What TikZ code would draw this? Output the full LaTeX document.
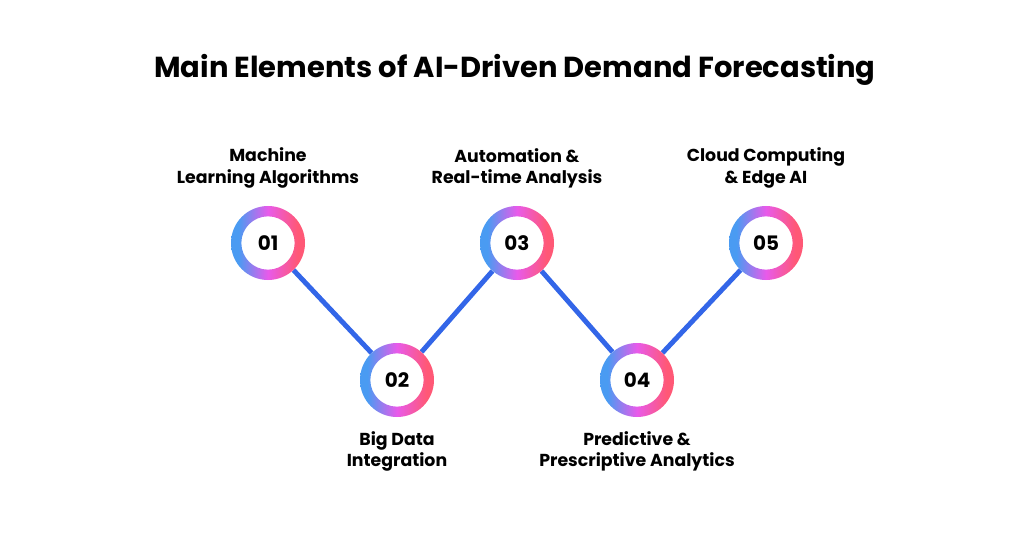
\documentclass[tikz,border=0pt]{standalone}
\usepackage{fontspec}
\setmainfont{Poppins}
\usetikzlibrary{positioning}
\definecolor{CBlue}{HTML}{4A9BF2}
\definecolor{CMagenta}{HTML}{E85AEA}
\definecolor{CRed}{HTML}{FF5876}
\definecolor{CLine}{HTML}{3366E8}
\pgfdeclarehorizontalshading{ringshade}{100bp}{color(0bp)=(CBlue); color(30bp)=(CBlue); color(50bp)=(CMagenta); color(70bp)=(CRed); color(100bp)=(CRed)}
\tikzset{
  stepnode/.style={circle, minimum size=2.22cm, inner sep=0pt, font=\bfseries\fontsize{17}{17}\selectfont},
  steplabel/.style={align=center, font=\bfseries\fontsize{14.8}{18.5}\selectfont},
  link/.style={CLine, line width=4.2pt}
}
\newcommand{\ring}[1]{%
  \shade[shading=ringshade, even odd rule]
    (#1.center) circle (1.11cm) (#1.center) circle (0.8cm);}
\begin{document}
\begin{tikzpicture}[x=0.03cm, y=-0.03cm]
    \useasboundingbox (0,0) rectangle (1024,540);
    % Title
    \node[font=\bfseries\fontsize{24.7}{28}\selectfont] (title) at (515,70) {Main Elements of AI-Driven Demand Forecasting};

    % Steps
    \node[stepnode] (s1) at (268,243) {};
    \node[stepnode] (s2) at (397,380) {};
    \node[stepnode] (s3) at (517,243) {};
    \node[stepnode] (s4) at (637,380) {};
    \node[stepnode] (s5) at (766,243) {};

    % Connectors
    \draw[link] (s1) -- (s2);
    \draw[link] (s2) -- (s3);
    \draw[link] (s3) -- (s4);
    \draw[link] (s4) -- (s5);

    % Rings and numbers
    \foreach \n in {1,...,5} {
      \ring{s\n}
      \node[stepnode] at (s\n) {0\n};
    }

    % Labels
    \node[steplabel, above=0.4cm of s1] (l1) {Machine\\Learning Algorithms};
    \node[steplabel, below=0.3cm of s2] (l2) {Big Data\\Integration};
    \node[steplabel, above=0.4cm of s3] (l3) {Automation \&\\Real-time Analysis};
    \node[steplabel, below=0.3cm of s4] (l4) {Predictive \&\\Prescriptive Analytics};
    \node[steplabel, above=0.4cm of s5] (l5) {Cloud Computing\\\& Edge AI};
\end{tikzpicture}
\end{document}
